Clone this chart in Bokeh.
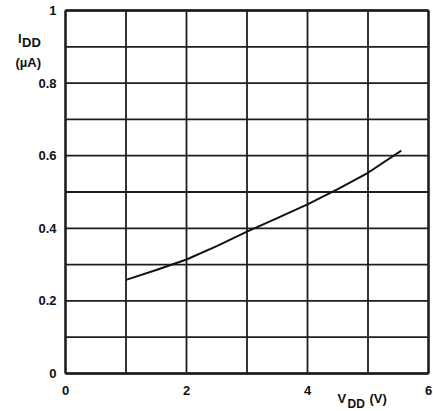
from bokeh.plotting import figure
from bokeh.models import Range1d
from bokeh.core.properties import value
from bokeh.embed import file_html
from bokeh.resources import INLINE

# data
vdd = [1.0, 1.5, 2.0, 2.5, 3.0, 3.5, 4.0, 4.5, 5.0, 5.55]
idd = [0.258, 0.285, 0.314, 0.351, 0.391, 0.428, 0.466, 0.508, 0.553, 0.614]
x_ticks = [0, 2, 4, 6]
x_tick_labels = ["0", "2", "4", "6"]
y_ticks = [0, 0.2, 0.4, 0.6, 0.8, 1.0]
y_tick_labels = ["0", "0.2", "0.4", "0.6", "0.8", "1"]
x_grid = [0, 1, 2, 3, 4, 5, 6]
y_grid = [0, 0.1, 0.2, 0.3, 0.4, 0.5, 0.6, 0.7, 0.8, 0.9, 1.0]

FONT = value("Liberation Sans")
TXT = "#111111"
GRID = "#1e1e1e"

W, H = 433, 411
LEFT, TOP, PW, PH = 65, 10, 363, 363   # plot area in pixels
xs = (x_grid[-1] - x_grid[0]) / PW
ys = (y_grid[-1] - y_grid[0]) / PH

p = figure(width=W, height=H, output_backend="svg", toolbar_location=None,
           x_range=Range1d(x_grid[0] - LEFT * xs, x_grid[0] + (W - LEFT) * xs),
           y_range=Range1d(y_grid[0] - (H - TOP - PH) * ys, y_grid[-1] + TOP * ys),
           min_border=0)
p.axis.visible = False
p.grid.visible = False
p.outline_line_color = None
p.background_fill_color = "white"
p.border_fill_color = "white"

x0, x1 = x_grid[0], x_grid[-1]
y0, y1 = y_grid[0], y_grid[-1]

# grid
p.segment(x0=x_grid, y0=[y0] * len(x_grid), x1=x_grid, y1=[y1] * len(x_grid),
          line_color=GRID, line_width=1.8)
p.segment(x0=[x0] * len(y_grid), y0=y_grid, x1=[x1] * len(y_grid), y1=y_grid,
          line_color=GRID, line_width=1.8)
# frame
p.segment(x0=[x0, x1], y0=[y0, y0], x1=[x0, x1], y1=[y1, y1], line_color=GRID, line_width=2.3)
p.segment(x0=[x0, x0], y0=[y0, y1], x1=[x1, x1], y1=[y0, y1], line_color=GRID, line_width=2.3)

# curve
p.line(vdd, idd, line_color="#111111", line_width=2)

# tick labels
p.text(x=[x0 - 9 * xs] * len(y_ticks), y=y_ticks, text=y_tick_labels,
       text_font=FONT, text_font_style="bold", text_font_size="13px",
       text_color=TXT, text_align="right", text_baseline="middle")
p.text(x=x_ticks, y=[y0 - 12 * ys] * len(x_ticks), text=x_tick_labels,
       text_font=FONT, text_font_style="bold", text_font_size="13px",
       text_color=TXT, text_align="center", text_baseline="top")

def lab(px, py, t, size):
    p.text(x=[x0 + (px - LEFT) * xs], y=[y0 + (TOP + PH - py) * ys], text=[t],
           text_font=FONT, text_font_style="bold", text_font_size=size,
           text_color=TXT, text_align="left", text_baseline="alphabetic")

# y-axis title: I_DD (µA)
lab(17.5, 37.5, "I", "13px")
lab(21.5, 42, "DD", "13px")
lab(15, 62, "(µA)", "13px")
# x-axis title: V_DD (V)
lab(337, 398, "V", "13px")
lab(347, 403, "DD", "12px")
lab(369, 397.5, "(V)", "13px")

open("out.html", "w").write(file_html(p, INLINE))
